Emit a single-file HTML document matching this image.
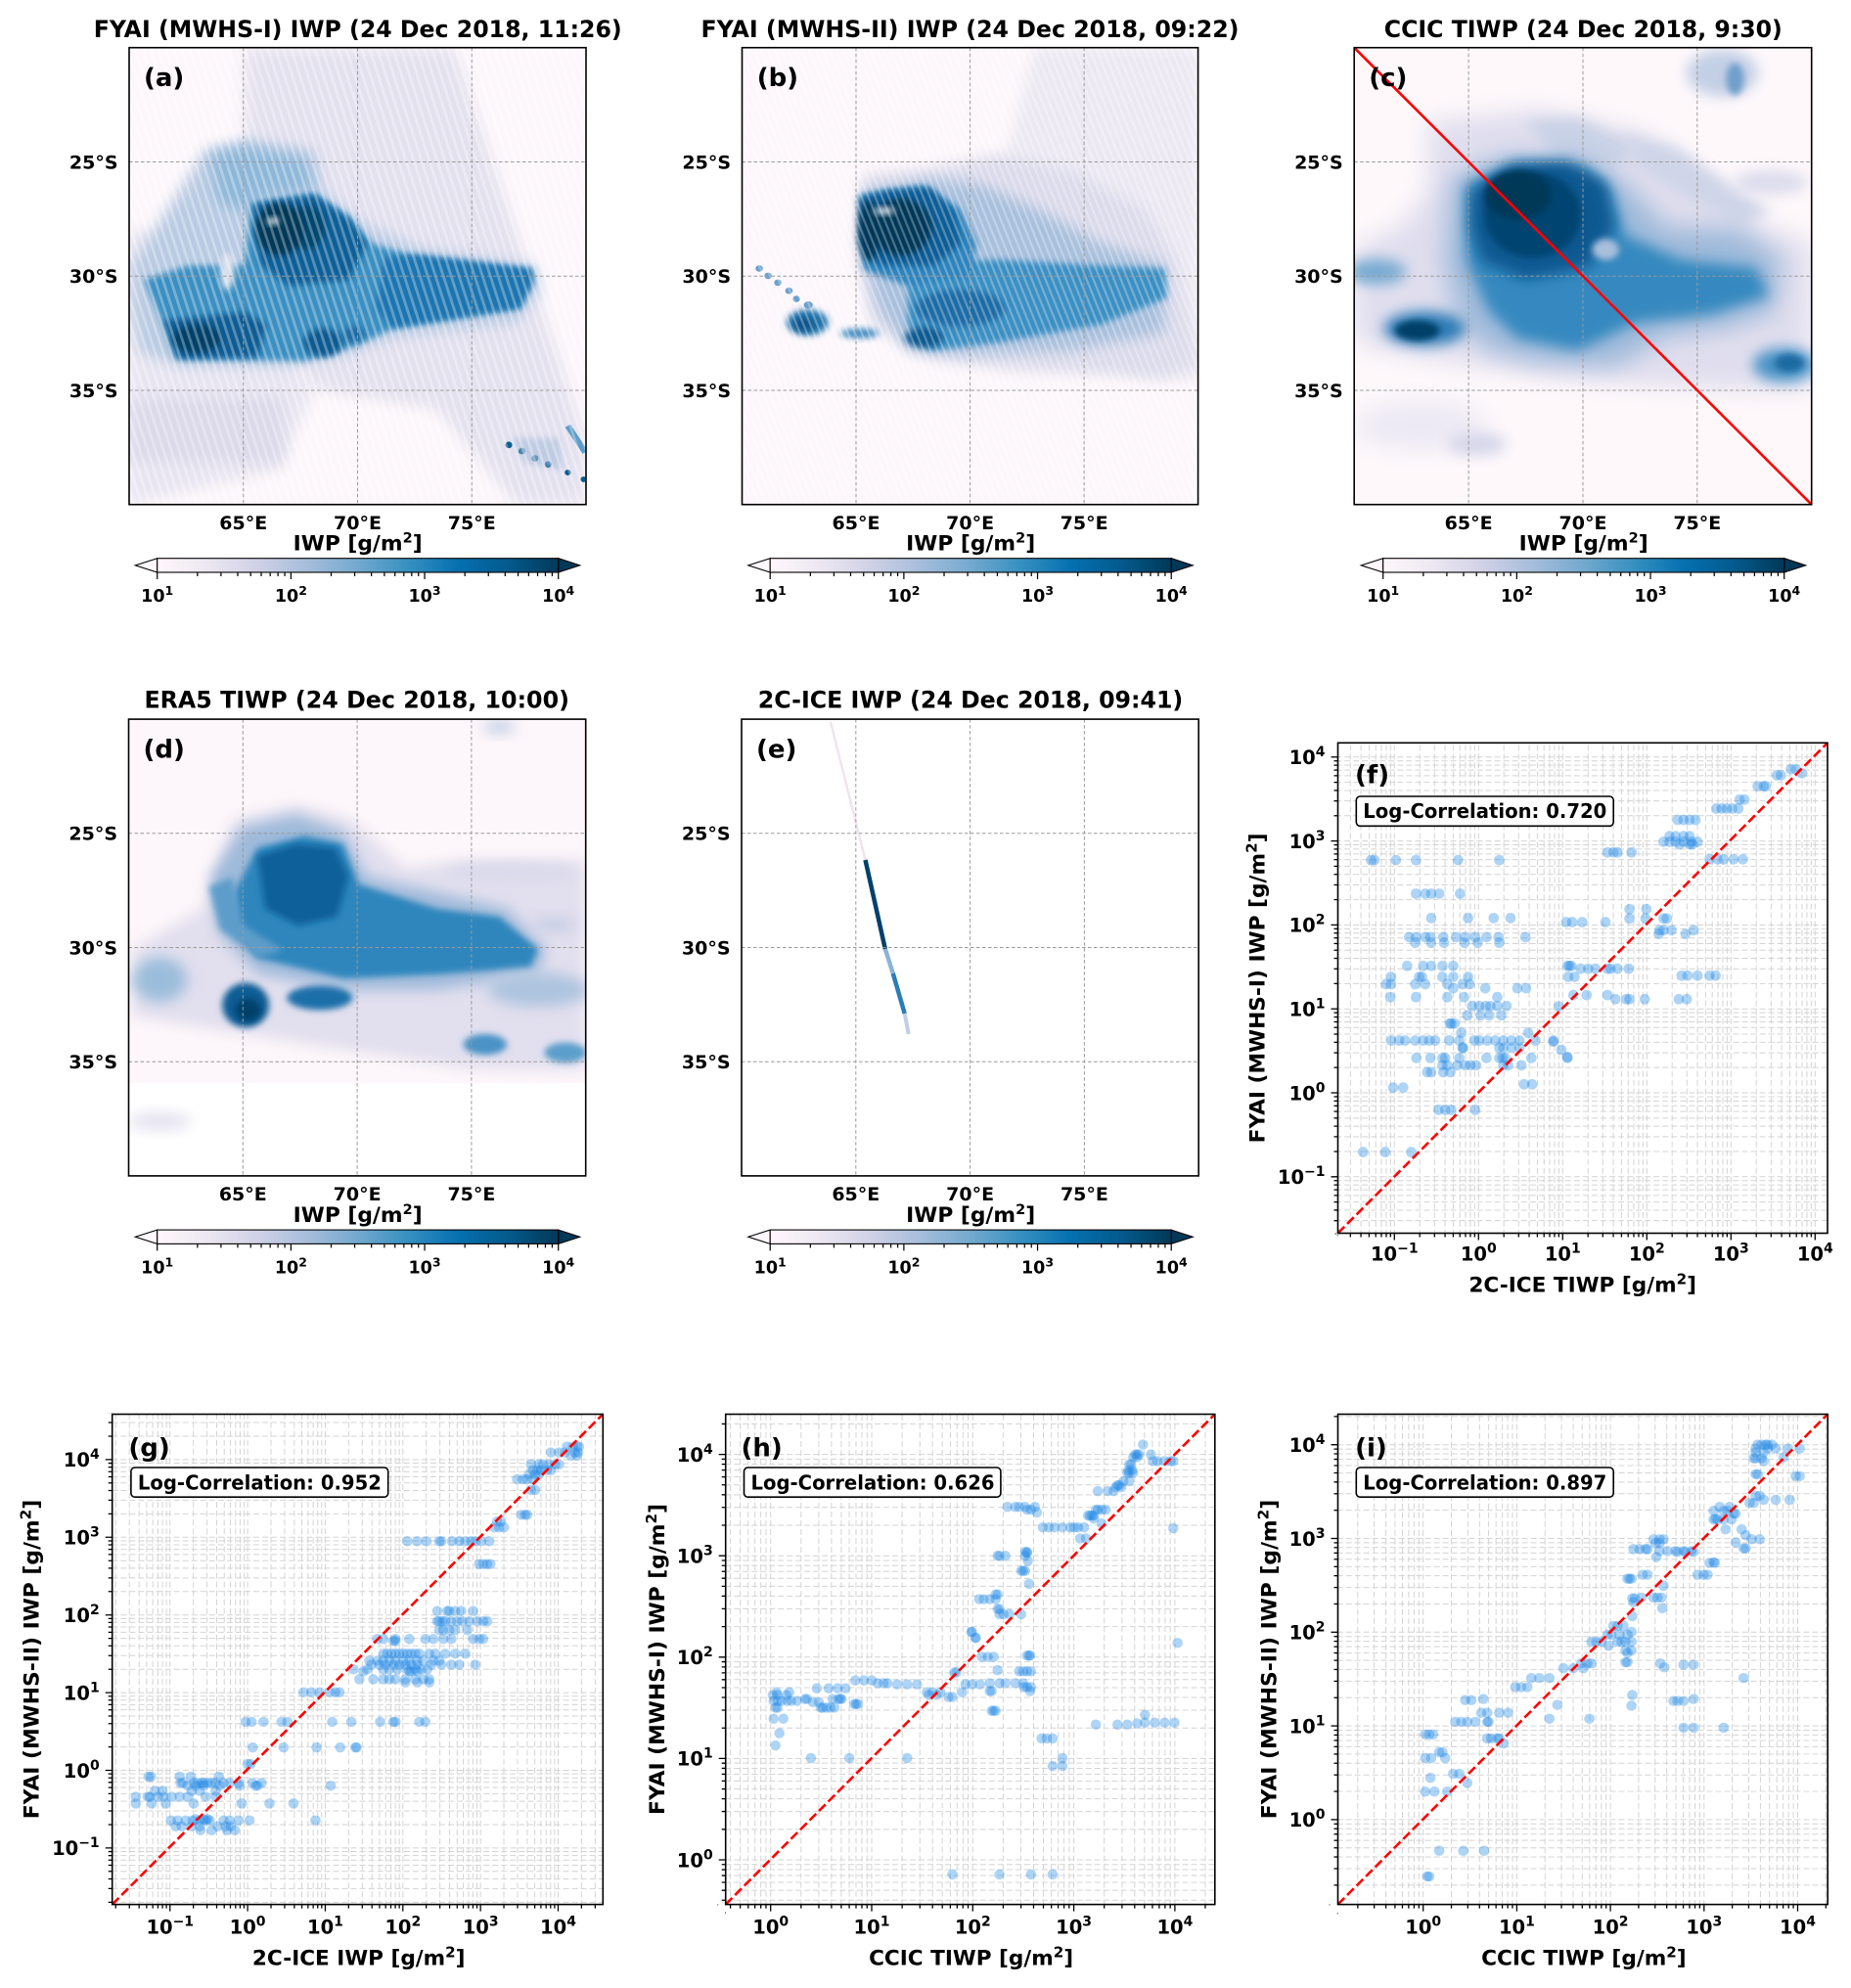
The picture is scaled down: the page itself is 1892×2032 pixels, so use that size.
<!DOCTYPE html>
<html><head><meta charset="utf-8"><style>
html,body{margin:0;padding:0;background:#fff;width:1892px;height:2032px;overflow:hidden;}
svg{display:block;}
text{font-family:"DejaVu Sans","Liberation Sans",sans-serif;font-weight:bold;fill:#000;}
</style></head><body>
<svg xmlns="http://www.w3.org/2000/svg" width="1892" height="2032" viewBox="0 0 1892 2032">
<defs>
<linearGradient id="pubu" x1="0" x2="1" y1="0" y2="0">
<stop offset="0" stop-color="#fff7fb"/><stop offset="0.125" stop-color="#ece7f2"/><stop offset="0.25" stop-color="#d0d1e6"/><stop offset="0.375" stop-color="#a6bddb"/><stop offset="0.5" stop-color="#74a9cf"/><stop offset="0.625" stop-color="#3690c0"/><stop offset="0.75" stop-color="#0570b0"/><stop offset="0.875" stop-color="#045a8d"/><stop offset="1" stop-color="#023858"/>
</linearGradient>
<filter id="fA" x="-50%" y="-50%" width="200%" height="200%"><feGaussianBlur stdDeviation="16 17"/></filter>
<filter id="fA2" x="-50%" y="-50%" width="200%" height="200%"><feGaussianBlur stdDeviation="7 8"/></filter>
<filter id="fB" x="-50%" y="-50%" width="200%" height="200%"><feGaussianBlur stdDeviation="9 17"/></filter>
<filter id="fB2" x="-50%" y="-50%" width="200%" height="200%"><feGaussianBlur stdDeviation="4.5 8"/></filter>
<filter id="fC" x="-50%" y="-50%" width="200%" height="200%"><feGaussianBlur stdDeviation="16 29"/></filter>
<pattern id="stA" patternUnits="userSpaceOnUse" width="8" height="40" patternTransform="skewX(18)"><rect x="0" y="0" width="3" height="40" fill="#fff"/></pattern>
<pattern id="stB" patternUnits="userSpaceOnUse" width="7" height="40" patternTransform="skewX(22)"><rect x="0" y="0" width="2.5" height="40" fill="#fff"/></pattern>
<!-- per-panel grid decades -->
<g id="gvF"><line x1="0" x2="0" y1="-170" y2="420"/><line x1="30.1" x2="30.1" y1="-170" y2="420"/><line x1="47.7" x2="47.7" y1="-170" y2="420"/><line x1="60.2" x2="60.2" y1="-170" y2="420"/><line x1="69.9" x2="69.9" y1="-170" y2="420"/><line x1="77.8" x2="77.8" y1="-170" y2="420"/><line x1="84.5" x2="84.5" y1="-170" y2="420"/><line x1="90.3" x2="90.3" y1="-170" y2="420"/><line x1="95.4" x2="95.4" y1="-170" y2="420"/></g>
<g id="ghF"><line y1="0" y2="0" x1="-170" x2="420"/><line y1="30.1" y2="30.1" x1="-170" x2="420"/><line y1="47.7" y2="47.7" x1="-170" x2="420"/><line y1="60.2" y2="60.2" x1="-170" x2="420"/><line y1="69.9" y2="69.9" x1="-170" x2="420"/><line y1="77.8" y2="77.8" x1="-170" x2="420"/><line y1="84.5" y2="84.5" x1="-170" x2="420"/><line y1="90.3" y2="90.3" x1="-170" x2="420"/><line y1="95.4" y2="95.4" x1="-170" x2="420"/></g>
<g id="gvG"><line x1="0" x2="0" y1="-175" y2="460"/><line x1="30.1" x2="30.1" y1="-175" y2="460"/><line x1="47.7" x2="47.7" y1="-175" y2="460"/><line x1="60.2" x2="60.2" y1="-175" y2="460"/><line x1="69.9" x2="69.9" y1="-175" y2="460"/><line x1="77.8" x2="77.8" y1="-175" y2="460"/><line x1="84.5" x2="84.5" y1="-175" y2="460"/><line x1="90.3" x2="90.3" y1="-175" y2="460"/><line x1="95.4" x2="95.4" y1="-175" y2="460"/></g>
<g id="ghG"><line y1="0" y2="0" x1="-175" x2="460"/><line y1="30.1" y2="30.1" x1="-175" x2="460"/><line y1="47.7" y2="47.7" x1="-175" x2="460"/><line y1="60.2" y2="60.2" x1="-175" x2="460"/><line y1="69.9" y2="69.9" x1="-175" x2="460"/><line y1="77.8" y2="77.8" x1="-175" x2="460"/><line y1="84.5" y2="84.5" x1="-175" x2="460"/><line y1="90.3" y2="90.3" x1="-175" x2="460"/><line y1="95.4" y2="95.4" x1="-175" x2="460"/></g>
<g id="gvH"><line x1="0" x2="0" y1="-45" y2="442"/><line x1="30.1" x2="30.1" y1="-45" y2="442"/><line x1="47.7" x2="47.7" y1="-45" y2="442"/><line x1="60.2" x2="60.2" y1="-45" y2="442"/><line x1="69.9" x2="69.9" y1="-45" y2="442"/><line x1="77.8" x2="77.8" y1="-45" y2="442"/><line x1="84.5" x2="84.5" y1="-45" y2="442"/><line x1="90.3" x2="90.3" y1="-45" y2="442"/><line x1="95.4" x2="95.4" y1="-45" y2="442"/></g>
<g id="ghH"><line y1="0" y2="0" x1="-45" x2="442"/><line y1="30.1" y2="30.1" x1="-45" x2="442"/><line y1="47.7" y2="47.7" x1="-45" x2="442"/><line y1="60.2" y2="60.2" x1="-45" x2="442"/><line y1="69.9" y2="69.9" x1="-45" x2="442"/><line y1="77.8" y2="77.8" x1="-45" x2="442"/><line y1="84.5" y2="84.5" x1="-45" x2="442"/><line y1="90.3" y2="90.3" x1="-45" x2="442"/><line y1="95.4" y2="95.4" x1="-45" x2="442"/></g>
<g id="gvI"><line x1="0" x2="0" y1="-92" y2="434"/><line x1="30.1" x2="30.1" y1="-92" y2="434"/><line x1="47.7" x2="47.7" y1="-92" y2="434"/><line x1="60.2" x2="60.2" y1="-92" y2="434"/><line x1="69.9" x2="69.9" y1="-92" y2="434"/><line x1="77.8" x2="77.8" y1="-92" y2="434"/><line x1="84.5" x2="84.5" y1="-92" y2="434"/><line x1="90.3" x2="90.3" y1="-92" y2="434"/><line x1="95.4" x2="95.4" y1="-92" y2="434"/></g>
<g id="ghI"><line y1="0" y2="0" x1="-92" x2="434"/><line y1="30.1" y2="30.1" x1="-92" x2="434"/><line y1="47.7" y2="47.7" x1="-92" x2="434"/><line y1="60.2" y2="60.2" x1="-92" x2="434"/><line y1="69.9" y2="69.9" x1="-92" x2="434"/><line y1="77.8" y2="77.8" x1="-92" x2="434"/><line y1="84.5" y2="84.5" x1="-92" x2="434"/><line y1="90.3" y2="90.3" x1="-92" x2="434"/><line y1="95.4" y2="95.4" x1="-92" x2="434"/></g>
<g id="lt"><line x1="-7" x2="0" y1="0" y2="0"/><line x1="-4" x2="0" y1="30.1" y2="30.1"/><line x1="-4" x2="0" y1="47.7" y2="47.7"/><line x1="-4" x2="0" y1="60.2" y2="60.2"/><line x1="-4" x2="0" y1="69.9" y2="69.9"/><line x1="-4" x2="0" y1="77.8" y2="77.8"/><line x1="-4" x2="0" y1="84.5" y2="84.5"/><line x1="-4" x2="0" y1="90.3" y2="90.3"/><line x1="-4" x2="0" y1="95.4" y2="95.4"/></g>
<g id="bt"><line x1="0" x2="0" y1="0" y2="7"/><line x1="30.1" x2="30.1" y1="0" y2="4"/><line x1="47.7" x2="47.7" y1="0" y2="4"/><line x1="60.2" x2="60.2" y1="0" y2="4"/><line x1="69.9" x2="69.9" y1="0" y2="4"/><line x1="77.8" x2="77.8" y1="0" y2="4"/><line x1="84.5" x2="84.5" y1="0" y2="4"/><line x1="90.3" x2="90.3" y1="0" y2="4"/><line x1="95.4" x2="95.4" y1="0" y2="4"/></g>
<clipPath id="cpa"><rect x="132" y="48.7" width="467" height="467"/></clipPath>
<clipPath id="cpb"><rect x="758.5" y="48.7" width="466.1" height="467"/></clipPath>
<clipPath id="cpc"><rect x="1384.2" y="48.7" width="467.5" height="467"/></clipPath>
<clipPath id="cpd"><rect x="131.5" y="735.1" width="467.2" height="466.8"/></clipPath>
<clipPath id="cpe"><rect x="758" y="735.1" width="467.2" height="466.8"/></clipPath>
<clipPath id="cpf"><rect x="1367.5" y="759.3" width="500.5" height="501.2"/></clipPath>
<clipPath id="cpg"><rect x="114.7" y="1445.5" width="501.6" height="501.1"/></clipPath>
<clipPath id="cph"><rect x="741.7" y="1445.5" width="500.1" height="501.1"/></clipPath>
<clipPath id="cpi"><rect x="1367.5" y="1445.5" width="500.7" height="501.1"/></clipPath>
<clipPath id="ctf"><rect x="1355" y="758.5" width="12.5" height="503"/><rect x="1366.8" y="1260.5" width="502" height="12"/></clipPath>
<clipPath id="ctg"><rect x="102" y="1444.8" width="12.7" height="502.5"/><rect x="114" y="1946.6" width="503" height="12"/></clipPath>
<clipPath id="cth"><rect x="729" y="1444.8" width="12.7" height="502.5"/><rect x="741" y="1946.6" width="501.5" height="12"/></clipPath>
<clipPath id="cti"><rect x="1355" y="1444.8" width="12.5" height="502.5"/><rect x="1366.8" y="1946.6" width="502" height="12"/></clipPath>
</defs>
<rect x="0" y="0" width="1892" height="2032" fill="#fff"/>

<!-- ============ TITLES ============ -->
<text x="365.7" y="38" font-size="24" text-anchor="middle" textLength="540" lengthAdjust="spacingAndGlyphs">FYAI (MWHS-I) IWP (24 Dec 2018, 11:26)</text>
<text x="991.5" y="38" font-size="24" text-anchor="middle" textLength="550" lengthAdjust="spacingAndGlyphs">FYAI (MWHS-II) IWP (24 Dec 2018, 09:22)</text>
<text x="1618.3" y="38" font-size="24" text-anchor="middle" textLength="407" lengthAdjust="spacingAndGlyphs">CCIC TIWP (24 Dec 2018, 9:30)</text>
<text x="364.7" y="723.5" font-size="24" text-anchor="middle" textLength="434.5" lengthAdjust="spacingAndGlyphs">ERA5 TIWP (24 Dec 2018, 10:00)</text>
<text x="992" y="723.5" font-size="24" text-anchor="middle" textLength="434.5" lengthAdjust="spacingAndGlyphs">2C-ICE IWP (24 Dec 2018, 09:41)</text>

<!-- ============ MAP A ============ -->
<g clip-path="url(#cpa)">
<g transform="translate(0,0) scale(0.44643,0.41454)">
<rect x="295" y="118" width="1047" height="1126" fill="#fdf7fb"/>
<path d="M560,118 L1040,118 L1342,1080 L1342,1244 L1180,1244 L1000,1010 L720,960 L560,700Z" fill="#e4e1ef" filter="url(#fA)"/>
<path d="M295,560 L560,650 L720,960 L640,1160 L295,1244Z" fill="#e8e5f1" filter="url(#fA)"/>
<rect x="300" y="980" width="350" height="160" fill="#dcd9ea" filter="url(#fA)"/>
<path d="M300,650 L380,520 L470,370 L570,345 L720,370 L740,470 L830,550 L960,610 L1225,655 L1235,720 L1185,795 L900,835 L780,880 L650,905 L420,905 L320,870 L300,760Z" fill="#b9cbe3" filter="url(#fA)"/>
<path d="M480,380 L560,360 L700,390 L720,470 L600,490 L560,520 L500,500Z" fill="#8db7d9" filter="url(#fA)"/>
<path d="M370,790 L330,690 L430,655 L560,655 L575,500 L720,478 L800,535 L850,600 L960,635 L1210,668 L1195,760 L900,810 L820,850 L700,890 L400,885Z" fill="#3a8fc2" filter="url(#fA2)"/>
<path d="M880,635 L960,628 L1220,662 L1222,700 L1190,758 L900,808 L860,760Z" fill="#1f74b0" filter="url(#fA2)"/>
<path d="M580,505 L720,480 L800,540 L840,600 L800,690 L660,705 L595,650Z" fill="#0a5f98" filter="url(#fA2)"/>
<ellipse cx="700" cy="560" rx="45" ry="55" fill="#03466f" filter="url(#fA2)"/>
<ellipse cx="640" cy="565" rx="55" ry="65" fill="#023858" filter="url(#fA2)"/>
<path d="M375,790 L560,770 L610,800 L590,880 L410,885Z" fill="#0b5c94" filter="url(#fA2)"/>
<ellipse cx="450" cy="835" rx="55" ry="35" fill="#023f68" filter="url(#fA2)"/>
<ellipse cx="740" cy="845" rx="45" ry="35" fill="#0a5a92" filter="url(#fA2)"/>
<ellipse cx="810" cy="825" rx="25" ry="20" fill="#1a6ba4" filter="url(#fA2)"/>
<ellipse cx="520" cy="670" rx="16" ry="45" fill="#dfe2ee" filter="url(#fA2)"/>
<ellipse cx="625" cy="545" rx="14" ry="8" fill="#eef1f7" filter="url(#fA2)"/>
<g fill="#045a8d"><ellipse cx="1165" cy="1097" rx="8" ry="8"/><ellipse cx="1195" cy="1112" rx="8" ry="8"/><ellipse cx="1225" cy="1130" rx="8" ry="8"/><ellipse cx="1255" cy="1145" rx="8" ry="8"/><ellipse cx="1300" cy="1165" rx="7" ry="7"/><ellipse cx="1336" cy="1182" rx="7" ry="7"/></g>
<path d="M1300,1050 L1340,1115" stroke="#5a9cca" stroke-width="14" fill="none"/>
<path d="M1170,1080 L1280,1080 L1290,1160 L1200,1140Z" fill="#a6bddb" filter="url(#fA2)" opacity="0.6"/>
</g>
<rect x="132" y="48.7" width="467" height="467" fill="url(#stA)" opacity="0.3"/>
</g>

<!-- ============ MAP B ============ -->
<g clip-path="url(#cpb)">
<g transform="translate(700,0) scale(0.76023,0.41454)">
<rect x="77" y="118" width="613" height="1126" fill="#fdf7fb"/>
<path d="M470,118 L690,118 L690,940 L600,930 L430,400Z" fill="#ebe8f2" filter="url(#fB)"/>
<path d="M240,430 L330,415 L420,380 L520,420 L620,520 L660,640 L690,900 L640,930 L450,915 L330,885 L250,800 L230,600Z" fill="#dcdbeb" filter="url(#fB)"/>
<path d="M240,470 L330,440 L400,455 L480,520 L560,600 L645,650 L645,820 L520,865 L380,875 L300,865 L260,760 L240,640Z" fill="#a9c0dd" filter="url(#fB)"/>
<path d="M300,650 L420,640 L560,655 L645,662 L648,735 L560,800 L420,845 L330,865 L300,800Z" fill="#3a8fc3" filter="url(#fB2)"/>
<path d="M235,480 L320,458 L370,515 L392,600 L385,685 L300,705 L240,665Z" fill="#2f84bd" filter="url(#fB2)"/>
<path d="M235,490 L270,470 L330,462 L362,520 L372,600 L335,655 L262,655 L235,600Z" fill="#075d97" filter="url(#fB2)"/>
<ellipse cx="290" cy="560" rx="42" ry="70" fill="#023858" filter="url(#fB2)"/>
<ellipse cx="248" cy="570" rx="14" ry="75" fill="#023858" filter="url(#fB2)"/>
<ellipse cx="268" cy="520" rx="14" ry="8" fill="#e8ecf4" filter="url(#fB2)"/>
<ellipse cx="370" cy="760" rx="60" ry="45" fill="#1b6ca6" filter="url(#fB2)"/>
<ellipse cx="165" cy="795" rx="28" ry="32" fill="#2474ad" filter="url(#fB2)"/>
<ellipse cx="160" cy="800" rx="14" ry="18" fill="#0b5288" filter="url(#fB2)"/>
<ellipse cx="235" cy="822" rx="26" ry="12" fill="#3b88c0" filter="url(#fB2)"/>
<ellipse cx="322" cy="832" rx="26" ry="26" fill="#0c5a90" filter="url(#fB2)"/>
<g fill="#6aa0cc"><ellipse cx="100" cy="662" rx="5" ry="8"/><ellipse cx="112" cy="680" rx="5" ry="8"/><ellipse cx="125" cy="697" rx="5" ry="8"/><ellipse cx="140" cy="717" rx="5" ry="8"/><ellipse cx="150" cy="737" rx="5" ry="8"/><ellipse cx="166" cy="752" rx="6" ry="9"/></g>
</g>
<rect x="758.5" y="48.7" width="466.1" height="467" fill="url(#stB)" opacity="0.28"/>
</g>

<!-- ============ MAP C ============ -->
<g clip-path="url(#cpc)">
<g transform="translate(700,0) scale(0.76023,0.41454)">
<rect x="900" y="118" width="615" height="1126" fill="#fef8fb"/>
<path d="M1000,300 L1150,270 L1290,330 L1360,430 L1430,540 L1515,600 L1515,960 L1420,960 L1300,950 L1150,925 L1000,885 L905,850 L900,780 L900,610 L960,560 L1000,470Z" fill="#e0deee" filter="url(#fC)"/>
<ellipse cx="990" cy="1050" rx="90" ry="60" fill="#ece9f4" filter="url(#fC)"/>
<ellipse cx="1065" cy="1095" rx="40" ry="28" fill="#d5d6ea" filter="url(#fB)"/>
<path d="M1130,300 L1200,290 L1280,360 L1250,420 L1180,400Z" fill="#c9d2e6" filter="url(#fB)"/>
<path d="M1260,330 L1330,360 L1400,450 L1460,520 L1420,560 L1340,480 L1280,410Z" fill="#cfd5e8" filter="url(#fB)"/>
<path d="M1030,440 L1100,385 L1200,385 L1265,450 L1320,560 L1420,565 L1475,640 L1465,770 L1400,810 L1320,830 L1250,905 L1150,895 L1080,865 L1040,790 L1020,640Z" fill="#9fbada" filter="url(#fC)"/>
<path d="M1050,455 L1120,405 L1210,410 L1245,470 L1265,580 L1340,640 L1440,660 L1458,730 L1380,775 L1280,795 L1200,865 L1120,835 L1080,765 L1050,640Z" fill="#3589c0" filter="url(#fB)"/>
<path d="M1058,470 L1110,405 L1185,398 L1238,450 L1250,560 L1215,660 L1130,690 L1072,645 L1056,560Z" fill="#075891" filter="url(#fB)"/>
<ellipse cx="1140" cy="530" rx="65" ry="105" fill="#034571" filter="url(#fB2)"/>
<ellipse cx="1120" cy="480" rx="45" ry="60" fill="#023858" filter="url(#fB2)"/>
<ellipse cx="1238" cy="615" rx="18" ry="26" fill="#a9bfdc" filter="url(#fB2)"/>
<ellipse cx="995" cy="810" rx="55" ry="42" fill="#2a7ab5" filter="url(#fB)"/>
<ellipse cx="985" cy="815" rx="30" ry="25" fill="#033f68" filter="url(#fB2)"/>
<ellipse cx="930" cy="670" rx="40" ry="32" fill="#78abd2" filter="url(#fB)"/>
<ellipse cx="1478" cy="900" rx="42" ry="42" fill="#4a93c6" filter="url(#fB)"/>
<ellipse cx="1485" cy="895" rx="20" ry="22" fill="#1c6aa3" filter="url(#fB2)"/>
<ellipse cx="1395" cy="180" rx="48" ry="58" fill="#c3cfe5" filter="url(#fB)"/>
<ellipse cx="1412" cy="195" rx="12" ry="40" fill="#6f9fcb" filter="url(#fB2)"/>
<ellipse cx="1460" cy="450" rx="50" ry="30" fill="#dcdcec" filter="url(#fB)"/>
</g>
</g>

<!-- ============ MAP D ============ -->
<g clip-path="url(#cpd)">
<g transform="translate(0,680) scale(0.79719,0.41454)">
<rect x="165" y="133" width="586" height="1126" fill="#fdf6fa"/>
<rect x="165" y="1030" width="586" height="229" fill="#ffffff"/>
<path d="M170,700 L260,600 L300,380 L380,345 L450,380 L520,500 L600,480 L751,480 L751,1000 L600,995 L450,950 L300,905 L170,865Z" fill="#e2dfee" filter="url(#fB)"/>
<path d="M270,520 L310,400 L380,368 L440,410 L470,520 L560,560 L650,600 L700,700 L690,760 L560,800 L440,800 L330,760 L280,660Z" fill="#9fbada" filter="url(#fB)"/>
<path d="M300,560 L330,450 L390,420 L440,440 L460,540 L560,600 L640,620 L690,700 L680,745 L560,762 L440,772 L330,722 L300,640Z" fill="#2f86bd" filter="url(#fB2)"/>
<path d="M268,545 L298,522 L312,640 L362,702 L332,722 L282,650Z" fill="#5d9dca" filter="url(#fB2)"/>
<path d="M330,470 L380,440 L430,450 L447,520 L432,620 L382,642 L340,600Z" fill="#0a609a" filter="url(#fB2)"/>
<ellipse cx="315" cy="838" rx="30" ry="55" fill="#0e5d94" filter="url(#fB2)"/>
<ellipse cx="318" cy="850" rx="16" ry="28" fill="#03406b" filter="url(#fB2)"/>
<ellipse cx="410" cy="820" rx="42" ry="30" fill="#1f70aa" filter="url(#fB2)"/>
<ellipse cx="205" cy="775" rx="35" ry="55" fill="#9bbddb" filter="url(#fB)"/>
<ellipse cx="622" cy="935" rx="28" ry="26" fill="#4a93c6" filter="url(#fB2)"/>
<ellipse cx="725" cy="955" rx="27" ry="25" fill="#5b9ecb" filter="url(#fB2)"/>
<ellipse cx="655" cy="510" rx="85" ry="20" fill="#d8d9eb" filter="url(#fB)"/>
<ellipse cx="710" cy="640" rx="30" ry="20" fill="#c9cfe6" filter="url(#fB)"/>
<ellipse cx="690" cy="800" rx="65" ry="42" fill="#aec4df" filter="url(#fB)"/>
<ellipse cx="640" cy="152" rx="20" ry="18" fill="#c6d0e6" filter="url(#fB)"/>
<ellipse cx="205" cy="1125" rx="40" ry="22" fill="#e4e1ef" filter="url(#fB)"/>
</g>
</g>

<!-- ============ MAP E ============ -->
<g clip-path="url(#cpe)">
<rect x="758" y="735.1" width="467.2" height="466.8" fill="#fff"/>
<line x1="849" y1="738" x2="884.5" y2="879" stroke="#f0e4ef" stroke-width="2.5"/>
<line x1="884.5" y1="879" x2="904.8" y2="970" stroke="#03406c" stroke-width="4.5"/>
<line x1="904.8" y1="970" x2="912.8" y2="995" stroke="#8cb3d6" stroke-width="4.5"/>
<line x1="912.8" y1="995" x2="924.7" y2="1036" stroke="#2a7db8" stroke-width="4.5"/>
<line x1="924.7" y1="1036" x2="928.7" y2="1057" stroke="#c0cfe5" stroke-width="4"/>
</g>

<!-- map gridlines -->
<g stroke="#9a9a9a" stroke-width="1" stroke-dasharray="3.5 2.5" fill="none">
<path d="M248.75,48.7V515.7M365.5,48.7V515.7M482.25,48.7V515.7M132,165.45H599M132,282.2H599M132,398.95H599"/>
<path d="M875,48.7V515.7M991.6,48.7V515.7M1108.1,48.7V515.7M758.5,165.45H1224.6M758.5,282.2H1224.6M758.5,398.95H1224.6"/>
<path d="M1501.1,48.7V515.7M1618,48.7V515.7M1734.8,48.7V515.7M1384.2,165.45H1851.7M1384.2,282.2H1851.7M1384.2,398.95H1851.7"/>
<path d="M248.3,735.1V1201.9M365.1,735.1V1201.9M481.9,735.1V1201.9M131.5,851.8H598.7M131.5,968.5H598.7M131.5,1085.2H598.7"/>
<path d="M874.8,735.1V1201.9M991.6,735.1V1201.9M1108.4,735.1V1201.9M758,851.8H1225.2M758,968.5H1225.2M758,1085.2H1225.2"/>
</g>
<line x1="1384.2" y1="48.7" x2="1851.7" y2="515.7" stroke="#ff0000" stroke-width="2.6"/>
<g fill="none" stroke="#000" stroke-width="1.6">
<rect x="132" y="48.7" width="467" height="467"/>
<rect x="758.5" y="48.7" width="466.1" height="467"/>
<rect x="1384.2" y="48.7" width="467.5" height="467"/>
<rect x="131.5" y="735.1" width="467.2" height="466.8"/>
<rect x="758" y="735.1" width="467.2" height="466.8"/>
</g>

<!-- panel labels maps -->
<g font-size="26">
<text x="147" y="88">(a)</text>
<text x="773.7" y="88">(b)</text>
<text x="1399.2" y="88">(c)</text>
<text x="146.5" y="774.4">(d)</text>
<text x="773" y="774.4">(e)</text>
</g>

<!-- map tick labels -->
<g font-size="19" text-anchor="end">
<text x="120.5" y="172.3">25°S</text><text x="120.5" y="289">30°S</text><text x="120.5" y="405.8">35°S</text>
<text x="747" y="172.3">25°S</text><text x="747" y="289">30°S</text><text x="747" y="405.8">35°S</text>
<text x="1372.7" y="172.3">25°S</text><text x="1372.7" y="289">30°S</text><text x="1372.7" y="405.8">35°S</text>
<text x="120" y="858.6">25°S</text><text x="120" y="975.3">30°S</text><text x="120" y="1092">35°S</text>
<text x="746.5" y="858.6">25°S</text><text x="746.5" y="975.3">30°S</text><text x="746.5" y="1092">35°S</text>
</g>
<g font-size="19" text-anchor="middle">
<text x="248.75" y="541">65°E</text><text x="365.5" y="541">70°E</text><text x="482.25" y="541">75°E</text>
<text x="875" y="541">65°E</text><text x="991.6" y="541">70°E</text><text x="1108.1" y="541">75°E</text>
<text x="1501.1" y="541">65°E</text><text x="1618" y="541">70°E</text><text x="1734.8" y="541">75°E</text>
<text x="248.3" y="1226.8">65°E</text><text x="365.1" y="1226.8">70°E</text><text x="481.9" y="1226.8">75°E</text>
<text x="874.8" y="1226.8">65°E</text><text x="991.6" y="1226.8">70°E</text><text x="1108.4" y="1226.8">75°E</text>
</g>
<g font-size="21" text-anchor="middle">
<text x="365.7" y="562.5" textLength="132" lengthAdjust="spacingAndGlyphs">IWP [g/m<tspan dy="-8" font-size="14">2</tspan><tspan dy="8">]</tspan></text>
<text x="992.2" y="562.5" textLength="132" lengthAdjust="spacingAndGlyphs">IWP [g/m<tspan dy="-8" font-size="14">2</tspan><tspan dy="8">]</tspan></text>
<text x="1618.7" y="562.5" textLength="132" lengthAdjust="spacingAndGlyphs">IWP [g/m<tspan dy="-8" font-size="14">2</tspan><tspan dy="8">]</tspan></text>
<text x="365.7" y="1249" textLength="132" lengthAdjust="spacingAndGlyphs">IWP [g/m<tspan dy="-8" font-size="14">2</tspan><tspan dy="8">]</tspan></text>
<text x="992.2" y="1249" textLength="132" lengthAdjust="spacingAndGlyphs">IWP [g/m<tspan dy="-8" font-size="14">2</tspan><tspan dy="8">]</tspan></text>
</g>

<!-- colorbars -->
<g stroke="#000" stroke-width="1.1">
<polygon points="138.3,577.85 160.7,570.7 160.7,585" fill="#fff7fb"/><polygon points="570.7,570.7 592.7,577.85 570.7,585" fill="#023858"/><rect x="160.7" y="570.7" width="410" height="14.3" fill="url(#pubu)"/>
<polygon points="764.8,577.85 787.2,570.7 787.2,585" fill="#fff7fb"/><polygon points="1197.2,570.7 1219.2,577.85 1197.2,585" fill="#023858"/><rect x="787.2" y="570.7" width="410" height="14.3" fill="url(#pubu)"/>
<polygon points="1391.3,577.85 1413.7,570.7 1413.7,585" fill="#fff7fb"/><polygon points="1823.7,570.7 1845.7,577.85 1823.7,585" fill="#023858"/><rect x="1413.7" y="570.7" width="410" height="14.3" fill="url(#pubu)"/>
<polygon points="138.3,1264.25 160.7,1257.1 160.7,1271.4" fill="#fff7fb"/><polygon points="570.7,1257.1 592.7,1264.25 570.7,1271.4" fill="#023858"/><rect x="160.7" y="1257.1" width="410" height="14.3" fill="url(#pubu)"/>
<polygon points="764.8,1264.25 787.2,1257.1 787.2,1271.4" fill="#fff7fb"/><polygon points="1197.2,1257.1 1219.2,1264.25 1197.2,1271.4" fill="#023858"/><rect x="787.2" y="1257.1" width="410" height="14.3" fill="url(#pubu)"/>
</g>
<g stroke="#000" stroke-width="0.9">
<g transform="translate(160.7,585) scale(1.3667,1)"><use href="#bt" x="0"/><use href="#bt" x="100"/><use href="#bt" x="200"/><line x1="300" x2="300" y1="0" y2="7"/></g>
<g transform="translate(787.2,585) scale(1.3667,1)"><use href="#bt" x="0"/><use href="#bt" x="100"/><use href="#bt" x="200"/><line x1="300" x2="300" y1="0" y2="7"/></g>
<g transform="translate(1413.7,585) scale(1.3667,1)"><use href="#bt" x="0"/><use href="#bt" x="100"/><use href="#bt" x="200"/><line x1="300" x2="300" y1="0" y2="7"/></g>
<g transform="translate(160.7,1271.4) scale(1.3667,1)"><use href="#bt" x="0"/><use href="#bt" x="100"/><use href="#bt" x="200"/><line x1="300" x2="300" y1="0" y2="7"/></g>
<g transform="translate(787.2,1271.4) scale(1.3667,1)"><use href="#bt" x="0"/><use href="#bt" x="100"/><use href="#bt" x="200"/><line x1="300" x2="300" y1="0" y2="7"/></g>
</g>
<g font-size="17.5" text-anchor="middle">
<text x="160.7" y="615">10<tspan dy="-7" font-size="12.5">1</tspan></text><text x="297.4" y="615">10<tspan dy="-7" font-size="12.5">2</tspan></text><text x="434" y="615">10<tspan dy="-7" font-size="12.5">3</tspan></text><text x="570.7" y="615">10<tspan dy="-7" font-size="12.5">4</tspan></text>
<text x="787.2" y="615">10<tspan dy="-7" font-size="12.5">1</tspan></text><text x="923.9" y="615">10<tspan dy="-7" font-size="12.5">2</tspan></text><text x="1060.5" y="615">10<tspan dy="-7" font-size="12.5">3</tspan></text><text x="1197.2" y="615">10<tspan dy="-7" font-size="12.5">4</tspan></text>
<text x="1413.7" y="615">10<tspan dy="-7" font-size="12.5">1</tspan></text><text x="1550.4" y="615">10<tspan dy="-7" font-size="12.5">2</tspan></text><text x="1687" y="615">10<tspan dy="-7" font-size="12.5">3</tspan></text><text x="1823.7" y="615">10<tspan dy="-7" font-size="12.5">4</tspan></text>
<text x="160.7" y="1301.4">10<tspan dy="-7" font-size="12.5">1</tspan></text><text x="297.4" y="1301.4">10<tspan dy="-7" font-size="12.5">2</tspan></text><text x="434" y="1301.4">10<tspan dy="-7" font-size="12.5">3</tspan></text><text x="570.7" y="1301.4">10<tspan dy="-7" font-size="12.5">4</tspan></text>
<text x="787.2" y="1301.4">10<tspan dy="-7" font-size="12.5">1</tspan></text><text x="923.9" y="1301.4">10<tspan dy="-7" font-size="12.5">2</tspan></text><text x="1060.5" y="1301.4">10<tspan dy="-7" font-size="12.5">3</tspan></text><text x="1197.2" y="1301.4">10<tspan dy="-7" font-size="12.5">4</tspan></text>
</g>

<!-- ============ SCATTER F ============ -->
<g clip-path="url(#cpf)">
<g transform="translate(1511.3,1117) scale(0.86,-0.858)" stroke="#d4d4d4" stroke-width="1.16" stroke-dasharray="7 3.5" fill="none">
<use href="#gvF" x="-200"/><use href="#gvF" x="-100"/><use href="#gvF" x="0"/><use href="#gvF" x="100"/><use href="#gvF" x="200"/><use href="#gvF" x="300"/><use href="#gvF" x="400"/>
<use href="#ghF" y="-200"/><use href="#ghF" y="-100"/><use href="#ghF" y="0"/><use href="#ghF" y="100"/><use href="#ghF" y="200"/><use href="#ghF" y="300"/><use href="#ghF" y="400"/>
</g>
<g transform="translate(1250,700) scale(0.40943,0.41454)" fill="#1e88e5" fill-opacity="0.36">
<circle cx="370" cy="432" r="13"/><circle cx="378" cy="432" r="13"/><circle cx="432" cy="432" r="13"/><circle cx="482" cy="432" r="13"/><circle cx="587" cy="432" r="13"/><circle cx="690" cy="432" r="13"/>
<circle cx="482" cy="515" r="13"/><circle cx="505" cy="515" r="13"/><circle cx="520" cy="515" r="13"/><circle cx="540" cy="515" r="13"/><circle cx="592" cy="515" r="13"/>
<circle cx="520" cy="575" r="13"/><circle cx="612" cy="575" r="13"/><circle cx="676" cy="575" r="13"/><circle cx="718" cy="575" r="13"/>
<circle cx="465" cy="622" r="13"/><circle cx="482" cy="622" r="13"/><circle cx="505" cy="622" r="13"/><circle cx="518" cy="622" r="13"/><circle cx="550" cy="622" r="13"/><circle cx="582" cy="622" r="13"/><circle cx="605" cy="622" r="13"/><circle cx="630" cy="622" r="13"/><circle cx="658" cy="622" r="13"/><circle cx="688" cy="622" r="13"/><circle cx="755" cy="622" r="13"/>
<circle cx="480" cy="636" r="13"/><circle cx="520" cy="636" r="13"/><circle cx="552" cy="636" r="13"/><circle cx="603" cy="636" r="13"/><circle cx="636" cy="636" r="13"/><circle cx="690" cy="636" r="13"/>
<circle cx="460" cy="693" r="13"/><circle cx="500" cy="693" r="13"/><circle cx="520" cy="693" r="13"/><circle cx="548" cy="693" r="13"/><circle cx="575" cy="693" r="13"/>
<circle cx="420" cy="720" r="13"/><circle cx="490" cy="720" r="13"/><circle cx="497" cy="720" r="13"/><circle cx="548" cy="720" r="13"/><circle cx="575" cy="720" r="13"/><circle cx="612" cy="720" r="13"/>
<circle cx="407" cy="738" r="13"/><circle cx="420" cy="738" r="13"/><circle cx="480" cy="738" r="13"/><circle cx="505" cy="738" r="13"/><circle cx="560" cy="738" r="13"/><circle cx="598" cy="738" r="13"/><circle cx="616" cy="738" r="13"/>
<circle cx="575" cy="748" r="13"/><circle cx="655" cy="748" r="13"/><circle cx="735" cy="748" r="13"/><circle cx="757" cy="748" r="13"/>
<circle cx="418" cy="770" r="13"/><circle cx="482" cy="770" r="13"/><circle cx="560" cy="770" r="13"/><circle cx="602" cy="770" r="13"/><circle cx="685" cy="770" r="13"/>
<circle cx="622" cy="792" r="13"/><circle cx="640" cy="792" r="13"/><circle cx="656" cy="792" r="13"/><circle cx="668" cy="792" r="13"/><circle cx="685" cy="792" r="13"/><circle cx="708" cy="792" r="13"/>
<circle cx="610" cy="815" r="13"/><circle cx="643" cy="815" r="13"/><circle cx="665" cy="815" r="13"/><circle cx="695" cy="815" r="13"/>
<circle cx="566" cy="835" r="13"/><circle cx="570" cy="835" r="13"/><circle cx="578" cy="835" r="13"/>
<circle cx="595" cy="858" r="13"/><circle cx="762" cy="858" r="13"/>
<circle cx="420" cy="877" r="13"/><circle cx="440" cy="877" r="13"/><circle cx="455" cy="877" r="13"/><circle cx="480" cy="877" r="13"/><circle cx="500" cy="877" r="13"/><circle cx="515" cy="877" r="13"/><circle cx="530" cy="877" r="13"/><circle cx="565" cy="877" r="13"/><circle cx="590" cy="877" r="13"/><circle cx="628" cy="877" r="13"/><circle cx="640" cy="877" r="13"/><circle cx="660" cy="877" r="13"/><circle cx="680" cy="877" r="13"/><circle cx="700" cy="877" r="13"/><circle cx="720" cy="877" r="13"/><circle cx="740" cy="877" r="13"/><circle cx="780" cy="877" r="13"/><circle cx="825" cy="877" r="13"/>
<circle cx="598" cy="895" r="13"/><circle cx="600" cy="895" r="13"/><circle cx="690" cy="895" r="13"/><circle cx="700" cy="895" r="13"/><circle cx="720" cy="895" r="13"/><circle cx="740" cy="895" r="13"/>
<circle cx="483" cy="920" r="13"/><circle cx="518" cy="920" r="13"/><circle cx="548" cy="920" r="13"/><circle cx="555" cy="920" r="13"/><circle cx="590" cy="920" r="13"/><circle cx="658" cy="920" r="13"/><circle cx="690" cy="920" r="13"/><circle cx="698" cy="920" r="13"/><circle cx="705" cy="920" r="13"/><circle cx="770" cy="920" r="13"/><circle cx="860" cy="920" r="13"/>
<circle cx="548" cy="938" r="13"/><circle cx="560" cy="938" r="13"/><circle cx="585" cy="938" r="13"/><circle cx="605" cy="938" r="13"/><circle cx="618" cy="938" r="13"/><circle cx="632" cy="938" r="13"/><circle cx="700" cy="938" r="13"/><circle cx="712" cy="938" r="13"/><circle cx="745" cy="938" r="13"/>
<circle cx="510" cy="955" r="13"/><circle cx="520" cy="955" r="13"/><circle cx="550" cy="955" r="13"/><circle cx="568" cy="955" r="13"/>
<circle cx="752" cy="985" r="13"/><circle cx="772" cy="985" r="13"/><circle cx="425" cy="993" r="13"/><circle cx="450" cy="993" r="13"/>
<circle cx="538" cy="1048" r="13"/><circle cx="555" cy="1048" r="13"/><circle cx="570" cy="1048" r="13"/><circle cx="630" cy="1048" r="13"/>
<circle cx="350" cy="1152" r="13"/><circle cx="405" cy="1152" r="13"/><circle cx="470" cy="1152" r="13"/>
<circle cx="960" cy="413" r="13"/><circle cx="975" cy="413" r="13"/><circle cx="985" cy="413" r="13"/><circle cx="1020" cy="413" r="13"/>
<circle cx="1100" cy="387" r="13"/><circle cx="1115" cy="387" r="13"/><circle cx="1130" cy="387" r="13"/><circle cx="1150" cy="387" r="13"/><circle cx="1170" cy="387" r="13"/><circle cx="1185" cy="387" r="13"/>
<circle cx="1115" cy="373" r="13"/><circle cx="1130" cy="373" r="13"/><circle cx="1150" cy="373" r="13"/><circle cx="1165" cy="373" r="13"/>
<circle cx="1140" cy="393" r="13"/><circle cx="1165" cy="393" r="13"/><circle cx="1172" cy="393" r="13"/>
<circle cx="1215" cy="430" r="13"/><circle cx="1235" cy="430" r="13"/><circle cx="1250" cy="430" r="13"/><circle cx="1275" cy="430" r="13"/><circle cx="1298" cy="430" r="13"/>
<circle cx="1135" cy="333" r="13"/><circle cx="1150" cy="333" r="13"/><circle cx="1165" cy="333" r="13"/><circle cx="1180" cy="333" r="13"/>
<circle cx="1232" cy="305" r="13"/><circle cx="1245" cy="305" r="13"/><circle cx="1258" cy="305" r="13"/><circle cx="1272" cy="305" r="13"/><circle cx="1287" cy="305" r="13"/>
<circle cx="1290" cy="283" r="13"/><circle cx="1302" cy="283" r="13"/>
<circle cx="1335" cy="250" r="13"/><circle cx="1350" cy="250" r="13"/><circle cx="1355" cy="250" r="13"/>
<circle cx="1383" cy="223" r="13"/><circle cx="1393" cy="223" r="13"/><circle cx="1418" cy="208" r="13"/><circle cx="1430" cy="208" r="13"/><circle cx="1445" cy="218" r="13"/>
<circle cx="1015" cy="553" r="13"/><circle cx="1057" cy="553" r="13"/>
<circle cx="1015" cy="576" r="13"/><circle cx="1055" cy="576" r="13"/><circle cx="1100" cy="576" r="13"/><circle cx="1108" cy="576" r="13"/>
<circle cx="1090" cy="605" r="13"/><circle cx="1100" cy="605" r="13"/><circle cx="1120" cy="605" r="13"/><circle cx="1175" cy="605" r="13"/>
<circle cx="1088" cy="614" r="13"/><circle cx="1155" cy="614" r="13"/>
<circle cx="857" cy="585" r="13"/><circle cx="872" cy="585" r="13"/><circle cx="897" cy="585" r="13"/><circle cx="955" cy="585" r="13"/>
<circle cx="893" cy="700" r="13"/><circle cx="912" cy="700" r="13"/><circle cx="930" cy="700" r="13"/><circle cx="960" cy="700" r="13"/><circle cx="968" cy="700" r="13"/><circle cx="985" cy="700" r="13"/><circle cx="1013" cy="700" r="13"/>
<circle cx="860" cy="693" r="13"/><circle cx="865" cy="693" r="13"/><circle cx="870" cy="693" r="13"/>
<circle cx="862" cy="720" r="13"/><circle cx="878" cy="720" r="13"/>
<circle cx="875" cy="765" r="13"/><circle cx="908" cy="765" r="13"/><circle cx="960" cy="765" r="13"/>
<circle cx="980" cy="775" r="13"/><circle cx="1007" cy="775" r="13"/><circle cx="1015" cy="775" r="13"/><circle cx="1053" cy="775" r="13"/><circle cx="1138" cy="775" r="13"/><circle cx="1158" cy="775" r="13"/>
<circle cx="1145" cy="717" r="13"/><circle cx="1160" cy="717" r="13"/><circle cx="1185" cy="717" r="13"/><circle cx="1215" cy="717" r="13"/><circle cx="1230" cy="717" r="13"/>
<circle cx="838" cy="793" r="13"/><circle cx="825" cy="880" r="13"/><circle cx="845" cy="900" r="13"/><circle cx="860" cy="918" r="13"/>
</g>
<line x1="1367.5" y1="1260.5" x2="1868" y2="759.3" stroke="#ff0000" stroke-width="2.6" stroke-dasharray="9.5 4"/>
</g>
<g clip-path="url(#ctf)" stroke="#000">
<g transform="translate(1367.5,1117) scale(1,-0.858)" stroke-width="1.5"><use href="#lt" y="-200"/><use href="#lt" y="-100"/><use href="#lt" y="0"/><use href="#lt" y="100"/><use href="#lt" y="200"/><use href="#lt" y="300"/><use href="#lt" y="400"/></g>
<g transform="translate(1511.3,1260.5) scale(0.86,1)" stroke-width="1.5"><use href="#bt" x="-200"/><use href="#bt" x="-100"/><use href="#bt" x="0"/><use href="#bt" x="100"/><use href="#bt" x="200"/><use href="#bt" x="300"/><use href="#bt" x="400"/></g>
</g>
<rect x="1386.3" y="814" width="262.9" height="30.3" rx="4" fill="#fff" stroke="#000" stroke-width="1.6"/>
<text x="1393.3" y="835.8" font-size="20" textLength="249" lengthAdjust="spacingAndGlyphs">Log-Correlation: 0.720</text>
<text x="1385" y="800.4" font-size="26">(f)</text>
<rect x="1367.5" y="759.3" width="500.5" height="501.2" fill="none" stroke="#000" stroke-width="1.6"/>
<g font-size="19.5" text-anchor="middle">
<text x="1425.3" y="1288.7">10<tspan dy="-8" font-size="14">−1</tspan></text><text x="1511.3" y="1288.7">10<tspan dy="-8" font-size="14">0</tspan></text><text x="1597.3" y="1288.7">10<tspan dy="-8" font-size="14">1</tspan></text><text x="1683.3" y="1288.7">10<tspan dy="-8" font-size="14">2</tspan></text><text x="1769.3" y="1288.7">10<tspan dy="-8" font-size="14">3</tspan></text><text x="1855.3" y="1288.7">10<tspan dy="-8" font-size="14">4</tspan></text>
</g>
<g font-size="19.5" text-anchor="end">
<text x="1354.5" y="781.1">10<tspan dy="-8" font-size="14">4</tspan></text><text x="1354.5" y="866.9">10<tspan dy="-8" font-size="14">3</tspan></text><text x="1354.5" y="952.7">10<tspan dy="-8" font-size="14">2</tspan></text><text x="1354.5" y="1038.5">10<tspan dy="-8" font-size="14">1</tspan></text><text x="1354.5" y="1124.3">10<tspan dy="-8" font-size="14">0</tspan></text><text x="1354.5" y="1210.1">10<tspan dy="-8" font-size="14">−1</tspan></text>
</g>
<text x="1617.7" y="1320.5" font-size="21.5" text-anchor="middle" textLength="232.6" lengthAdjust="spacingAndGlyphs">2C-ICE TIWP [g/m<tspan dy="-8" font-size="15">2</tspan><tspan dy="8">]</tspan></text>
<text transform="translate(1284.8,1009.9) rotate(-90)" y="7.8" font-size="21.5" text-anchor="middle" textLength="317" lengthAdjust="spacingAndGlyphs">FYAI (MWHS-I) IWP [g/m<tspan dy="-8" font-size="15">2</tspan><tspan dy="8">]</tspan></text>

<!-- ============ SCATTER G ============ -->
<g clip-path="url(#cpg)">
<g transform="translate(253.1,1809.5) scale(0.7935,-0.794)" stroke="#d4d4d4" stroke-width="1.26" stroke-dasharray="7.6 3.8" fill="none">
<use href="#gvG" x="-200"/><use href="#gvG" x="-100"/><use href="#gvG" x="0"/><use href="#gvG" x="100"/><use href="#gvG" x="200"/><use href="#gvG" x="300"/><use href="#gvG" x="400"/>
<use href="#ghG" y="-200"/><use href="#ghG" y="-100"/><use href="#ghG" y="0"/><use href="#ghG" y="100"/><use href="#ghG" y="200"/><use href="#ghG" y="300"/><use href="#ghG" y="400"/>
</g>
<g transform="translate(0,1400) scale(0.40816,0.40306)" fill="#1e88e5" fill-opacity="0.36">
<circle cx="1420" cy="195" r="13"/><circle cx="1435" cy="195" r="13"/><circle cx="1445" cy="195" r="13"/><circle cx="1450" cy="195" r="13"/>
<circle cx="1380" cy="210" r="13"/><circle cx="1400" cy="210" r="13"/><circle cx="1415" cy="210" r="13"/><circle cx="1440" cy="210" r="13"/><circle cx="1448" cy="210" r="13"/>
<circle cx="1430" cy="218" r="13"/><circle cx="1445" cy="218" r="13"/>
<circle cx="1330" cy="240" r="13"/><circle cx="1350" cy="240" r="13"/><circle cx="1360" cy="240" r="13"/><circle cx="1375" cy="240" r="13"/><circle cx="1390" cy="240" r="13"/><circle cx="1400" cy="240" r="13"/>
<circle cx="1335" cy="255" r="13"/><circle cx="1345" cy="255" r="13"/><circle cx="1355" cy="255" r="13"/><circle cx="1370" cy="255" r="13"/><circle cx="1380" cy="255" r="13"/>
<circle cx="1325" cy="265" r="13"/><circle cx="1340" cy="265" r="13"/><circle cx="1350" cy="265" r="13"/>
<circle cx="1295" cy="278" r="13"/><circle cx="1310" cy="278" r="13"/><circle cx="1320" cy="278" r="13"/><circle cx="1335" cy="278" r="13"/>
<circle cx="1330" cy="305" r="13"/><circle cx="1340" cy="305" r="13"/>
<circle cx="1305" cy="368" r="13"/><circle cx="1315" cy="368" r="13"/><circle cx="1320" cy="368" r="13"/>
<circle cx="1245" cy="385" r="13"/><circle cx="1255" cy="385" r="13"/><circle cx="1238" cy="400" r="13"/><circle cx="1250" cy="400" r="13"/><circle cx="1262" cy="400" r="13"/>
<circle cx="1020" cy="435" r="13"/><circle cx="1045" cy="435" r="13"/><circle cx="1068" cy="435" r="13"/><circle cx="1100" cy="435" r="13"/><circle cx="1105" cy="435" r="13"/><circle cx="1132" cy="435" r="13"/><circle cx="1150" cy="435" r="13"/><circle cx="1165" cy="435" r="13"/><circle cx="1180" cy="435" r="13"/><circle cx="1190" cy="435" r="13"/><circle cx="1205" cy="435" r="13"/><circle cx="1225" cy="435" r="13"/>
<circle cx="1200" cy="493" r="13"/><circle cx="1210" cy="493" r="13"/><circle cx="1220" cy="493" r="13"/><circle cx="1228" cy="493" r="13"/>
<circle cx="1095" cy="612" r="13"/><circle cx="1120" cy="612" r="13"/><circle cx="1125" cy="612" r="13"/><circle cx="1140" cy="612" r="13"/><circle cx="1155" cy="612" r="13"/><circle cx="1185" cy="612" r="13"/>
<circle cx="1095" cy="638" r="13"/><circle cx="1100" cy="638" r="13"/><circle cx="1108" cy="638" r="13"/><circle cx="1115" cy="638" r="13"/><circle cx="1130" cy="638" r="13"/><circle cx="1145" cy="638" r="13"/><circle cx="1158" cy="638" r="13"/><circle cx="1175" cy="638" r="13"/><circle cx="1195" cy="638" r="13"/><circle cx="1210" cy="638" r="13"/><circle cx="1220" cy="638" r="13"/>
<circle cx="1100" cy="660" r="13"/><circle cx="1110" cy="660" r="13"/><circle cx="1125" cy="660" r="13"/><circle cx="1140" cy="660" r="13"/><circle cx="1170" cy="660" r="13"/>
<circle cx="945" cy="683" r="13"/><circle cx="960" cy="683" r="13"/><circle cx="990" cy="683" r="13"/><circle cx="1025" cy="683" r="13"/><circle cx="1065" cy="683" r="13"/><circle cx="1085" cy="683" r="13"/><circle cx="1110" cy="683" r="13"/><circle cx="1130" cy="683" r="13"/><circle cx="1185" cy="683" r="13"/><circle cx="1200" cy="683" r="13"/><circle cx="1210" cy="683" r="13"/>
<circle cx="985" cy="688" r="13"/><circle cx="990" cy="688" r="13"/>
<circle cx="960" cy="720" r="13"/><circle cx="970" cy="720" r="13"/><circle cx="980" cy="720" r="13"/><circle cx="990" cy="720" r="13"/><circle cx="1000" cy="720" r="13"/><circle cx="1010" cy="720" r="13"/><circle cx="1020" cy="720" r="13"/><circle cx="1030" cy="720" r="13"/><circle cx="1040" cy="720" r="13"/><circle cx="1050" cy="720" r="13"/><circle cx="1075" cy="720" r="13"/><circle cx="1090" cy="720" r="13"/><circle cx="1115" cy="720" r="13"/><circle cx="1140" cy="720" r="13"/><circle cx="1165" cy="720" r="13"/>
<circle cx="925" cy="738" r="13"/><circle cx="945" cy="738" r="13"/><circle cx="960" cy="738" r="13"/><circle cx="975" cy="738" r="13"/><circle cx="990" cy="738" r="13"/><circle cx="1010" cy="738" r="13"/><circle cx="1025" cy="738" r="13"/><circle cx="1045" cy="738" r="13"/><circle cx="1060" cy="738" r="13"/><circle cx="1085" cy="738" r="13"/><circle cx="1100" cy="738" r="13"/>
<circle cx="930" cy="748" r="13"/><circle cx="950" cy="748" r="13"/><circle cx="965" cy="748" r="13"/><circle cx="985" cy="748" r="13"/><circle cx="1000" cy="748" r="13"/><circle cx="1015" cy="748" r="13"/><circle cx="1030" cy="748" r="13"/><circle cx="1045" cy="748" r="13"/><circle cx="1080" cy="748" r="13"/><circle cx="1105" cy="748" r="13"/><circle cx="1130" cy="748" r="13"/><circle cx="1150" cy="748" r="13"/><circle cx="1190" cy="748" r="13"/>
<circle cx="885" cy="760" r="13"/><circle cx="920" cy="760" r="13"/><circle cx="960" cy="760" r="13"/><circle cx="975" cy="760" r="13"/><circle cx="995" cy="760" r="13"/><circle cx="1020" cy="760" r="13"/><circle cx="1040" cy="760" r="13"/><circle cx="1055" cy="760" r="13"/><circle cx="1070" cy="760" r="13"/>
<circle cx="910" cy="765" r="13"/><circle cx="1025" cy="765" r="13"/><circle cx="1030" cy="765" r="13"/><circle cx="1045" cy="765" r="13"/>
<circle cx="900" cy="785" r="13"/><circle cx="935" cy="785" r="13"/><circle cx="960" cy="785" r="13"/><circle cx="975" cy="785" r="13"/><circle cx="990" cy="785" r="13"/><circle cx="1015" cy="785" r="13"/><circle cx="1040" cy="785" r="13"/><circle cx="1060" cy="785" r="13"/><circle cx="1075" cy="785" r="13"/>
<circle cx="1015" cy="793" r="13"/><circle cx="1045" cy="793" r="13"/><circle cx="1075" cy="793" r="13"/>
<circle cx="760" cy="818" r="13"/><circle cx="780" cy="818" r="13"/><circle cx="800" cy="818" r="13"/><circle cx="826" cy="818" r="13"/><circle cx="840" cy="818" r="13"/><circle cx="850" cy="818" r="13"/>
<circle cx="615" cy="893" r="13"/><circle cx="630" cy="893" r="13"/><circle cx="660" cy="893" r="13"/><circle cx="705" cy="893" r="13"/><circle cx="720" cy="893" r="13"/><circle cx="832" cy="893" r="13"/><circle cx="880" cy="893" r="13"/><circle cx="952" cy="893" r="13"/><circle cx="985" cy="893" r="13"/><circle cx="990" cy="893" r="13"/><circle cx="1050" cy="893" r="13"/><circle cx="1065" cy="893" r="13"/>
<circle cx="633" cy="958" r="13"/><circle cx="710" cy="958" r="13"/><circle cx="793" cy="958" r="13"/><circle cx="852" cy="958" r="13"/><circle cx="890" cy="958" r="13"/><circle cx="893" cy="958" r="13"/>
<circle cx="620" cy="1000" r="13"/><circle cx="628" cy="1000" r="13"/>
<circle cx="372" cy="1032" r="13"/><circle cx="378" cy="1032" r="13"/><circle cx="450" cy="1032" r="13"/><circle cx="478" cy="1032" r="13"/><circle cx="548" cy="1032" r="13"/>
<circle cx="452" cy="1048" r="13"/><circle cx="458" cy="1048" r="13"/><circle cx="485" cy="1048" r="13"/><circle cx="495" cy="1048" r="13"/><circle cx="505" cy="1048" r="13"/><circle cx="510" cy="1048" r="13"/><circle cx="520" cy="1048" r="13"/><circle cx="530" cy="1048" r="13"/><circle cx="540" cy="1048" r="13"/><circle cx="560" cy="1048" r="13"/><circle cx="575" cy="1048" r="13"/><circle cx="598" cy="1048" r="13"/><circle cx="632" cy="1048" r="13"/><circle cx="655" cy="1048" r="13"/>
<circle cx="470" cy="1055" r="13"/><circle cx="490" cy="1055" r="13"/><circle cx="510" cy="1055" r="13"/><circle cx="550" cy="1055" r="13"/><circle cx="600" cy="1055" r="13"/><circle cx="640" cy="1055" r="13"/><circle cx="645" cy="1055" r="13"/><circle cx="828" cy="1055" r="13"/>
<circle cx="388" cy="1068" r="13"/><circle cx="407" cy="1068" r="13"/><circle cx="480" cy="1068" r="13"/><circle cx="500" cy="1068" r="13"/><circle cx="540" cy="1068" r="13"/>
<circle cx="340" cy="1083" r="13"/><circle cx="370" cy="1083" r="13"/><circle cx="375" cy="1083" r="13"/><circle cx="395" cy="1083" r="13"/><circle cx="410" cy="1083" r="13"/><circle cx="430" cy="1083" r="13"/><circle cx="450" cy="1083" r="13"/><circle cx="470" cy="1083" r="13"/><circle cx="515" cy="1083" r="13"/><circle cx="540" cy="1083" r="13"/>
<circle cx="340" cy="1100" r="13"/><circle cx="380" cy="1100" r="13"/><circle cx="415" cy="1100" r="13"/><circle cx="485" cy="1100" r="13"/><circle cx="605" cy="1100" r="13"/><circle cx="675" cy="1100" r="13"/><circle cx="735" cy="1100" r="13"/>
<circle cx="428" cy="1143" r="13"/><circle cx="445" cy="1143" r="13"/><circle cx="465" cy="1143" r="13"/><circle cx="482" cy="1143" r="13"/><circle cx="500" cy="1143" r="13"/><circle cx="515" cy="1143" r="13"/><circle cx="525" cy="1143" r="13"/><circle cx="560" cy="1143" r="13"/><circle cx="575" cy="1143" r="13"/><circle cx="598" cy="1143" r="13"/><circle cx="625" cy="1143" r="13"/><circle cx="790" cy="1143" r="13"/>
<circle cx="490" cy="1140" r="13"/><circle cx="510" cy="1140" r="13"/><circle cx="520" cy="1140" r="13"/>
<circle cx="440" cy="1158" r="13"/><circle cx="455" cy="1158" r="13"/><circle cx="480" cy="1158" r="13"/><circle cx="500" cy="1158" r="13"/><circle cx="545" cy="1158" r="13"/><circle cx="565" cy="1158" r="13"/><circle cx="578" cy="1158" r="13"/>
<circle cx="502" cy="1168" r="13"/><circle cx="530" cy="1168" r="13"/><circle cx="568" cy="1168" r="13"/><circle cx="588" cy="1168" r="13"/>
</g>
<line x1="114.7" y1="1946.6" x2="616.3" y2="1445.5" stroke="#ff0000" stroke-width="2.6" stroke-dasharray="9.5 4"/>
</g>
<g clip-path="url(#ctg)" stroke="#000">
<g transform="translate(114.7,1809.5) scale(1,-0.794)" stroke-width="1.6"><use href="#lt" y="-200"/><use href="#lt" y="-100"/><use href="#lt" y="0"/><use href="#lt" y="100"/><use href="#lt" y="200"/><use href="#lt" y="300"/><use href="#lt" y="400"/></g>
<g transform="translate(253.1,1946.6) scale(0.7935,1)" stroke-width="1.6"><use href="#bt" x="-200"/><use href="#bt" x="-100"/><use href="#bt" x="0"/><use href="#bt" x="100"/><use href="#bt" x="200"/><use href="#bt" x="300"/><use href="#bt" x="400"/></g>
</g>
<rect x="133.9" y="1500" width="262.8" height="30.2" rx="4" fill="#fff" stroke="#000" stroke-width="1.6"/>
<text x="140.9" y="1522.6" font-size="20" textLength="249" lengthAdjust="spacingAndGlyphs">Log-Correlation: 0.952</text>
<text x="131.4" y="1488.4" font-size="26">(g)</text>
<rect x="114.7" y="1445.5" width="501.6" height="501.1" fill="none" stroke="#000" stroke-width="1.6"/>
<g font-size="19.5" text-anchor="middle">
<text x="173.75" y="1976.7">10<tspan dy="-8" font-size="14">−1</tspan></text><text x="253.1" y="1976.7">10<tspan dy="-8" font-size="14">0</tspan></text><text x="332.45" y="1976.7">10<tspan dy="-8" font-size="14">1</tspan></text><text x="411.8" y="1976.7">10<tspan dy="-8" font-size="14">2</tspan></text><text x="491.15" y="1976.7">10<tspan dy="-8" font-size="14">3</tspan></text><text x="570.5" y="1976.7">10<tspan dy="-8" font-size="14">4</tspan></text>
</g>
<g font-size="19.5" text-anchor="end">
<text x="101.7" y="1499.2">10<tspan dy="-8" font-size="14">4</tspan></text><text x="101.7" y="1578.6">10<tspan dy="-8" font-size="14">3</tspan></text><text x="101.7" y="1658">10<tspan dy="-8" font-size="14">2</tspan></text><text x="101.7" y="1737.4">10<tspan dy="-8" font-size="14">1</tspan></text><text x="101.7" y="1816.8">10<tspan dy="-8" font-size="14">0</tspan></text><text x="101.7" y="1896.2">10<tspan dy="-8" font-size="14">−1</tspan></text>
</g>
<text x="366.7" y="2008.4" font-size="21.5" text-anchor="middle" textLength="217.6" lengthAdjust="spacingAndGlyphs">2C-ICE IWP [g/m<tspan dy="-8" font-size="15">2</tspan><tspan dy="8">]</tspan></text>
<text transform="translate(31.6,1696) rotate(-90)" y="7.8" font-size="21.5" text-anchor="middle" textLength="326.5" lengthAdjust="spacingAndGlyphs">FYAI (MWHS-II) IWP [g/m<tspan dy="-8" font-size="15">2</tspan><tspan dy="8">]</tspan></text>

<!-- ============ SCATTER H ============ -->
<g clip-path="url(#cph)">
<g transform="translate(787.7,1901) scale(1.033,-1.036)" stroke="#d4d4d4" stroke-width="0.97" stroke-dasharray="5.8 2.9" fill="none">
<use href="#gvH" x="-100"/><use href="#gvH" x="0"/><use href="#gvH" x="100"/><use href="#gvH" x="200"/><use href="#gvH" x="300"/><use href="#gvH" x="400"/>
<use href="#ghH" y="-100"/><use href="#ghH" y="0"/><use href="#ghH" y="100"/><use href="#ghH" y="200"/><use href="#ghH" y="300"/><use href="#ghH" y="400"/>
</g>
<g transform="translate(640,1400) scale(0.40177,0.40306)" fill="#1e88e5" fill-opacity="0.36">
<circle cx="1315" cy="190" r="13"/>
<circle cx="1295" cy="215" r="13"/><circle cx="1300" cy="215" r="13"/><circle cx="1305" cy="215" r="13"/><circle cx="1335" cy="215" r="13"/>
<circle cx="1290" cy="222" r="13"/><circle cx="1300" cy="222" r="13"/>
<circle cx="1340" cy="232" r="13"/><circle cx="1352" cy="232" r="13"/><circle cx="1370" cy="232" r="13"/><circle cx="1385" cy="232" r="13"/><circle cx="1392" cy="232" r="13"/>
<circle cx="1280" cy="240" r="13"/><circle cx="1285" cy="240" r="13"/><circle cx="1278" cy="255" r="13"/><circle cx="1288" cy="255" r="13"/>
<circle cx="1275" cy="262" r="13"/><circle cx="1280" cy="262" r="13"/><circle cx="1290" cy="262" r="13"/>
<circle cx="1265" cy="283" r="13"/><circle cx="1280" cy="283" r="13"/><circle cx="1250" cy="293" r="13"/><circle cx="1255" cy="293" r="13"/>
<circle cx="1245" cy="298" r="13"/><circle cx="1260" cy="298" r="13"/><circle cx="1200" cy="308" r="13"/><circle cx="1225" cy="308" r="13"/><circle cx="1240" cy="308" r="13"/>
<circle cx="970" cy="348" r="13"/><circle cx="990" cy="348" r="13"/><circle cx="1000" cy="348" r="13"/><circle cx="1015" cy="348" r="13"/><circle cx="1040" cy="348" r="13"/>
<circle cx="1020" cy="355" r="13"/><circle cx="1030" cy="355" r="13"/><circle cx="1045" cy="362" r="13"/>
<circle cx="1195" cy="355" r="13"/><circle cx="1200" cy="355" r="13"/><circle cx="1210" cy="355" r="13"/><circle cx="1220" cy="355" r="13"/>
<circle cx="1175" cy="370" r="13"/><circle cx="1180" cy="370" r="13"/><circle cx="1185" cy="370" r="13"/><circle cx="1190" cy="370" r="13"/><circle cx="1190" cy="378" r="13"/><circle cx="1210" cy="390" r="13"/>
<circle cx="1060" cy="400" r="13"/><circle cx="1075" cy="400" r="13"/><circle cx="1090" cy="400" r="13"/><circle cx="1110" cy="400" r="13"/><circle cx="1130" cy="400" r="13"/><circle cx="1140" cy="400" r="13"/><circle cx="1150" cy="400" r="13"/><circle cx="1165" cy="400" r="13"/>
<circle cx="1392" cy="402" r="13"/><circle cx="1155" cy="428" r="13"/><circle cx="1170" cy="428" r="13"/>
<circle cx="1015" cy="462" r="13"/><circle cx="1020" cy="462" r="13"/><circle cx="1020" cy="465" r="13"/>
<circle cx="945" cy="472" r="13"/><circle cx="950" cy="472" r="13"/><circle cx="965" cy="472" r="13"/><circle cx="1015" cy="472" r="13"/><circle cx="1022" cy="485" r="13"/>
<circle cx="1005" cy="510" r="13"/><circle cx="1010" cy="510" r="13"/><circle cx="1015" cy="510" r="13"/><circle cx="1025" cy="543" r="13"/>
<circle cx="898" cy="582" r="13"/><circle cx="910" cy="582" r="13"/><circle cx="925" cy="582" r="13"/><circle cx="940" cy="582" r="13"/>
<circle cx="940" cy="570" r="13"/><circle cx="945" cy="570" r="13"/><circle cx="945" cy="607" r="13"/><circle cx="950" cy="607" r="13"/>
<circle cx="950" cy="620" r="13"/><circle cx="960" cy="620" r="13"/><circle cx="975" cy="620" r="13"/><circle cx="1005" cy="620" r="13"/>
<circle cx="878" cy="665" r="13"/><circle cx="880" cy="665" r="13"/><circle cx="888" cy="680" r="13"/><circle cx="890" cy="680" r="13"/>
<circle cx="1403" cy="693" r="13"/>
<circle cx="905" cy="728" r="13"/><circle cx="920" cy="728" r="13"/><circle cx="935" cy="728" r="13"/>
<circle cx="1020" cy="725" r="13"/><circle cx="1025" cy="725" r="13"/><circle cx="1028" cy="725" r="13"/>
<circle cx="945" cy="762" r="13"/><circle cx="1000" cy="765" r="13"/><circle cx="1010" cy="765" r="13"/><circle cx="1020" cy="765" r="13"/><circle cx="1030" cy="765" r="13"/>
<circle cx="835" cy="768" r="13"/><circle cx="840" cy="768" r="13"/>
<circle cx="583" cy="788" r="13"/><circle cx="605" cy="788" r="13"/><circle cx="625" cy="788" r="13"/>
<circle cx="640" cy="795" r="13"/><circle cx="655" cy="795" r="13"/><circle cx="665" cy="795" r="13"/>
<circle cx="690" cy="798" r="13"/><circle cx="715" cy="798" r="13"/><circle cx="740" cy="798" r="13"/>
<circle cx="863" cy="798" r="13"/><circle cx="880" cy="798" r="13"/><circle cx="900" cy="798" r="13"/>
<circle cx="925" cy="795" r="13"/><circle cx="950" cy="795" r="13"/><circle cx="965" cy="795" r="13"/><circle cx="990" cy="795" r="13"/><circle cx="1010" cy="795" r="13"/>
<circle cx="1012" cy="805" r="13"/><circle cx="1020" cy="805" r="13"/><circle cx="1030" cy="805" r="13"/>
<circle cx="925" cy="815" r="13"/><circle cx="930" cy="815" r="13"/><circle cx="1028" cy="815" r="13"/>
<circle cx="485" cy="808" r="13"/><circle cx="515" cy="808" r="13"/><circle cx="538" cy="808" r="13"/><circle cx="558" cy="808" r="13"/>
<circle cx="765" cy="818" r="13"/><circle cx="780" cy="818" r="13"/><circle cx="800" cy="818" r="13"/><circle cx="855" cy="818" r="13"/>
<circle cx="770" cy="825" r="13"/><circle cx="790" cy="825" r="13"/><circle cx="820" cy="830" r="13"/><circle cx="830" cy="830" r="13"/>
<circle cx="455" cy="835" r="13"/><circle cx="460" cy="835" r="13"/><circle cx="525" cy="835" r="13"/><circle cx="540" cy="835" r="13"/><circle cx="545" cy="835" r="13"/><circle cx="548" cy="835" r="13"/>
<circle cx="375" cy="840" r="13"/><circle cx="385" cy="840" r="13"/><circle cx="395" cy="840" r="13"/><circle cx="410" cy="840" r="13"/><circle cx="420" cy="840" r="13"/><circle cx="435" cy="840" r="13"/>
<circle cx="475" cy="843" r="13"/><circle cx="490" cy="843" r="13"/><circle cx="580" cy="848" r="13"/><circle cx="585" cy="848" r="13"/><circle cx="590" cy="848" r="13"/>
<circle cx="373" cy="825" r="13"/><circle cx="385" cy="825" r="13"/><circle cx="408" cy="825" r="13"/><circle cx="383" cy="818" r="13"/><circle cx="415" cy="818" r="13"/>
<circle cx="380" cy="857" r="13"/><circle cx="385" cy="857" r="13"/><circle cx="495" cy="857" r="13"/><circle cx="500" cy="857" r="13"/><circle cx="510" cy="857" r="13"/><circle cx="520" cy="857" r="13"/><circle cx="530" cy="857" r="13"/>
<circle cx="930" cy="865" r="13"/><circle cx="935" cy="865" r="13"/><circle cx="940" cy="865" r="13"/>
<circle cx="375" cy="885" r="13"/><circle cx="400" cy="885" r="13"/>
<circle cx="1195" cy="900" r="13"/><circle cx="1250" cy="900" r="13"/><circle cx="1275" cy="900" r="13"/><circle cx="1300" cy="897" r="13"/><circle cx="1320" cy="895" r="13"/><circle cx="1345" cy="895" r="13"/><circle cx="1370" cy="895" r="13"/><circle cx="1395" cy="895" r="13"/><circle cx="1320" cy="875" r="13"/>
<circle cx="390" cy="922" r="13"/><circle cx="1057" cy="935" r="13"/><circle cx="1070" cy="935" r="13"/><circle cx="1085" cy="935" r="13"/>
<circle cx="380" cy="953" r="13"/>
<circle cx="470" cy="985" r="13"/><circle cx="568" cy="985" r="13"/><circle cx="715" cy="985" r="13"/><circle cx="1110" cy="985" r="13"/>
<circle cx="1085" cy="1005" r="13"/><circle cx="1110" cy="1005" r="13"/>
<circle cx="830" cy="1280" r="13"/><circle cx="950" cy="1280" r="13"/><circle cx="1030" cy="1280" r="13"/><circle cx="1085" cy="1280" r="13"/>
</g>
<line x1="741.7" y1="1946.6" x2="1241.8" y2="1445.5" stroke="#ff0000" stroke-width="2.6" stroke-dasharray="9.5 4"/>
</g>
<g clip-path="url(#cth)" stroke="#000">
<g transform="translate(741.7,1901) scale(1,-1.036)" stroke-width="1.25"><use href="#lt" y="-100"/><use href="#lt" y="0"/><use href="#lt" y="100"/><use href="#lt" y="200"/><use href="#lt" y="300"/><use href="#lt" y="400"/></g>
<g transform="translate(787.7,1946.6) scale(1.033,1)" stroke-width="1.25"><use href="#bt" x="-100"/><use href="#bt" x="0"/><use href="#bt" x="100"/><use href="#bt" x="200"/><use href="#bt" x="300"/><use href="#bt" x="400"/></g>
</g>
<rect x="760.5" y="1500" width="262.4" height="30.2" rx="4" fill="#fff" stroke="#000" stroke-width="1.6"/>
<text x="767.5" y="1522.6" font-size="20" textLength="249" lengthAdjust="spacingAndGlyphs">Log-Correlation: 0.626</text>
<text x="757.5" y="1488.4" font-size="26">(h)</text>
<rect x="741.7" y="1445.5" width="500.1" height="501.1" fill="none" stroke="#000" stroke-width="1.6"/>
<g font-size="19.5" text-anchor="middle">
<text x="787.7" y="1976.7">10<tspan dy="-8" font-size="14">0</tspan></text><text x="891" y="1976.7">10<tspan dy="-8" font-size="14">1</tspan></text><text x="994.3" y="1976.7">10<tspan dy="-8" font-size="14">2</tspan></text><text x="1097.6" y="1976.7">10<tspan dy="-8" font-size="14">3</tspan></text><text x="1200.9" y="1976.7">10<tspan dy="-8" font-size="14">4</tspan></text>
</g>
<g font-size="19.5" text-anchor="end">
<text x="728.7" y="1493.9">10<tspan dy="-8" font-size="14">4</tspan></text><text x="728.7" y="1597.5">10<tspan dy="-8" font-size="14">3</tspan></text><text x="728.7" y="1701.1">10<tspan dy="-8" font-size="14">2</tspan></text><text x="728.7" y="1804.7">10<tspan dy="-8" font-size="14">1</tspan></text><text x="728.7" y="1908.3">10<tspan dy="-8" font-size="14">0</tspan></text>
</g>
<text x="992.6" y="2008.4" font-size="21.5" text-anchor="middle" textLength="209" lengthAdjust="spacingAndGlyphs">CCIC TIWP [g/m<tspan dy="-8" font-size="15">2</tspan><tspan dy="8">]</tspan></text>
<text transform="translate(671.1,1696) rotate(-90)" y="7.8" font-size="21.5" text-anchor="middle" textLength="318" lengthAdjust="spacingAndGlyphs">FYAI (MWHS-I) IWP [g/m<tspan dy="-8" font-size="15">2</tspan><tspan dy="8">]</tspan></text>

<!-- ============ SCATTER I ============ -->
<g clip-path="url(#cpi)">
<g transform="translate(1454.7,1859.9) scale(0.957,-0.958)" stroke="#d4d4d4" stroke-width="1.04" stroke-dasharray="6.3 3.1" fill="none">
<use href="#gvI" x="-100"/><use href="#gvI" x="0"/><use href="#gvI" x="100"/><use href="#gvI" x="200"/><use href="#gvI" x="300"/><use href="#gvI" x="400"/>
<use href="#ghI" y="-100"/><use href="#ghI" y="0"/><use href="#ghI" y="100"/><use href="#ghI" y="200"/><use href="#ghI" y="300"/><use href="#ghI" y="400"/>
</g>
<g transform="translate(1250,1400) scale(0.40943,0.40306)" fill="#1e88e5" fill-opacity="0.36">
<circle cx="1335" cy="190" r="13"/><circle cx="1345" cy="190" r="13"/><circle cx="1355" cy="190" r="13"/><circle cx="1360" cy="190" r="13"/><circle cx="1370" cy="190" r="13"/>
<circle cx="1330" cy="200" r="13"/><circle cx="1360" cy="200" r="13"/><circle cx="1380" cy="200" r="13"/><circle cx="1410" cy="200" r="13"/><circle cx="1440" cy="200" r="13"/>
<circle cx="1330" cy="210" r="13"/><circle cx="1350" cy="210" r="13"/><circle cx="1325" cy="225" r="13"/><circle cx="1330" cy="225" r="13"/><circle cx="1345" cy="225" r="13"/>
<circle cx="1350" cy="232" r="13"/><circle cx="1400" cy="222" r="13"/><circle cx="1330" cy="265" r="13"/><circle cx="1335" cy="265" r="13"/><circle cx="1430" cy="270" r="13"/><circle cx="1440" cy="270" r="13"/>
<circle cx="1330" cy="320" r="13"/><circle cx="1340" cy="320" r="13"/><circle cx="1350" cy="330" r="13"/><circle cx="1380" cy="330" r="13"/><circle cx="1415" cy="330" r="13"/>
<circle cx="1315" cy="338" r="13"/><circle cx="1325" cy="338" r="13"/><circle cx="1240" cy="348" r="13"/><circle cx="1265" cy="348" r="13"/>
<circle cx="1225" cy="358" r="13"/><circle cx="1250" cy="358" r="13"/><circle cx="1260" cy="358" r="13"/><circle cx="1280" cy="365" r="13"/><circle cx="1275" cy="365" r="13"/>
<circle cx="1225" cy="380" r="13"/><circle cx="1235" cy="380" r="13"/><circle cx="1250" cy="380" r="13"/><circle cx="1270" cy="380" r="13"/><circle cx="1230" cy="378" r="13"/>
<circle cx="1255" cy="405" r="13"/><circle cx="1295" cy="405" r="13"/><circle cx="1305" cy="420" r="13"/><circle cx="1320" cy="430" r="13"/><circle cx="1340" cy="430" r="13"/>
<circle cx="1280" cy="438" r="13"/><circle cx="1300" cy="453" r="13"/><circle cx="1305" cy="453" r="13"/>
<circle cx="1075" cy="430" r="13"/><circle cx="1090" cy="430" r="13"/><circle cx="1100" cy="430" r="13"/><circle cx="1080" cy="440" r="13"/><circle cx="1090" cy="440" r="13"/>
<circle cx="1025" cy="455" r="13"/><circle cx="1040" cy="455" r="13"/><circle cx="1055" cy="455" r="13"/><circle cx="1060" cy="455" r="13"/>
<circle cx="1090" cy="460" r="13"/><circle cx="1110" cy="460" r="13"/><circle cx="1130" cy="460" r="13"/><circle cx="1150" cy="460" r="13"/><circle cx="1170" cy="460" r="13"/>
<circle cx="1135" cy="462" r="13"/><circle cx="1155" cy="462" r="13"/><circle cx="1175" cy="462" r="13"/><circle cx="1082" cy="475" r="13"/>
<circle cx="1215" cy="490" r="13"/><circle cx="1228" cy="490" r="13"/><circle cx="1225" cy="488" r="13"/>
<circle cx="1048" cy="520" r="13"/><circle cx="1060" cy="520" r="13"/><circle cx="1185" cy="520" r="13"/><circle cx="1200" cy="520" r="13"/><circle cx="1210" cy="520" r="13"/>
<circle cx="1010" cy="530" r="13"/><circle cx="1020" cy="530" r="13"/><circle cx="1015" cy="530" r="13"/><circle cx="1100" cy="548" r="13"/>
<circle cx="1045" cy="578" r="13"/><circle cx="1075" cy="578" r="13"/><circle cx="1085" cy="578" r="13"/><circle cx="1095" cy="578" r="13"/>
<circle cx="1022" cy="580" r="13"/><circle cx="1028" cy="580" r="13"/><circle cx="1025" cy="590" r="13"/><circle cx="1097" cy="605" r="13"/><circle cx="1022" cy="625" r="13"/>
<circle cx="975" cy="650" r="13"/><circle cx="985" cy="650" r="13"/><circle cx="1000" cy="650" r="13"/><circle cx="1020" cy="665" r="13"/>
<circle cx="960" cy="672" r="13"/><circle cx="970" cy="672" r="13"/><circle cx="990" cy="672" r="13"/><circle cx="1010" cy="672" r="13"/>
<circle cx="920" cy="690" r="13"/><circle cx="932" cy="690" r="13"/><circle cx="945" cy="690" r="13"/><circle cx="985" cy="690" r="13"/><circle cx="995" cy="690" r="13"/><circle cx="1005" cy="690" r="13"/><circle cx="1020" cy="690" r="13"/>
<circle cx="963" cy="700" r="13"/><circle cx="1005" cy="712" r="13"/><circle cx="1020" cy="712" r="13"/><circle cx="1010" cy="718" r="13"/>
<circle cx="895" cy="745" r="13"/><circle cx="910" cy="745" r="13"/><circle cx="920" cy="745" r="13"/><circle cx="1092" cy="745" r="13"/>
<circle cx="1150" cy="748" r="13"/><circle cx="1175" cy="748" r="13"/><circle cx="1005" cy="742" r="13"/><circle cx="1010" cy="742" r="13"/><circle cx="1102" cy="755" r="13"/>
<circle cx="850" cy="757" r="13"/><circle cx="875" cy="757" r="13"/><circle cx="900" cy="757" r="13"/>
<circle cx="770" cy="782" r="13"/><circle cx="790" cy="782" r="13"/><circle cx="815" cy="782" r="13"/><circle cx="1300" cy="782" r="13"/>
<circle cx="730" cy="805" r="13"/><circle cx="745" cy="805" r="13"/><circle cx="760" cy="805" r="13"/>
<circle cx="1022" cy="825" r="13"/><circle cx="1125" cy="840" r="13"/><circle cx="1135" cy="840" r="13"/><circle cx="1150" cy="840" r="13"/><circle cx="1175" cy="835" r="13"/>
<circle cx="835" cy="850" r="13"/><circle cx="1020" cy="852" r="13"/>
<circle cx="605" cy="838" r="13"/><circle cx="620" cy="838" r="13"/><circle cx="650" cy="835" r="13"/>
<circle cx="645" cy="870" r="13"/><circle cx="660" cy="870" r="13"/><circle cx="690" cy="870" r="13"/><circle cx="712" cy="870" r="13"/>
<circle cx="915" cy="885" r="13"/><circle cx="815" cy="885" r="13"/>
<circle cx="580" cy="893" r="13"/><circle cx="595" cy="893" r="13"/><circle cx="610" cy="893" r="13"/><circle cx="630" cy="893" r="13"/><circle cx="660" cy="893" r="13"/><circle cx="663" cy="893" r="13"/>
<circle cx="1150" cy="908" r="13"/><circle cx="1175" cy="908" r="13"/><circle cx="1250" cy="908" r="13"/>
<circle cx="505" cy="925" r="13"/><circle cx="515" cy="925" r="13"/><circle cx="525" cy="925" r="13"/>
<circle cx="660" cy="935" r="13"/><circle cx="670" cy="935" r="13"/><circle cx="685" cy="935" r="13"/><circle cx="690" cy="935" r="13"/><circle cx="700" cy="948" r="13"/>
<circle cx="540" cy="970" r="13"/><circle cx="548" cy="970" r="13"/>
<circle cx="505" cy="985" r="13"/><circle cx="520" cy="985" r="13"/><circle cx="555" cy="985" r="13"/>
<circle cx="575" cy="1025" r="13"/><circle cx="590" cy="1025" r="13"/><circle cx="518" cy="1035" r="13"/><circle cx="610" cy="1048" r="13"/>
<circle cx="505" cy="1070" r="13"/><circle cx="528" cy="1070" r="13"/><circle cx="560" cy="1070" r="13"/>
<circle cx="540" cy="1220" r="13"/><circle cx="600" cy="1220" r="13"/><circle cx="652" cy="1220" r="13"/>
<circle cx="510" cy="1285" r="13"/><circle cx="515" cy="1285" r="13"/>
</g>
<line x1="1367.5" y1="1946.6" x2="1868.2" y2="1445.5" stroke="#ff0000" stroke-width="2.6" stroke-dasharray="9.5 4"/>
</g>
<g clip-path="url(#cti)" stroke="#000">
<g transform="translate(1367.5,1859.9) scale(1,-0.958)" stroke-width="1.35"><use href="#lt" y="-100"/><use href="#lt" y="0"/><use href="#lt" y="100"/><use href="#lt" y="200"/><use href="#lt" y="300"/><use href="#lt" y="400"/></g>
<g transform="translate(1454.7,1946.6) scale(0.957,1)" stroke-width="1.35"><use href="#bt" x="-100"/><use href="#bt" x="0"/><use href="#bt" x="100"/><use href="#bt" x="200"/><use href="#bt" x="300"/><use href="#bt" x="400"/></g>
</g>
<rect x="1386.3" y="1500" width="262.9" height="30.2" rx="4" fill="#fff" stroke="#000" stroke-width="1.6"/>
<text x="1393.3" y="1522.6" font-size="20" textLength="249" lengthAdjust="spacingAndGlyphs">Log-Correlation: 0.897</text>
<text x="1385.1" y="1488.4" font-size="26">(i)</text>
<rect x="1367.5" y="1445.5" width="500.7" height="501.1" fill="none" stroke="#000" stroke-width="1.6"/>
<g font-size="19.5" text-anchor="middle">
<text x="1454.7" y="1976.7">10<tspan dy="-8" font-size="14">0</tspan></text><text x="1550.4" y="1976.7">10<tspan dy="-8" font-size="14">1</tspan></text><text x="1646.1" y="1976.7">10<tspan dy="-8" font-size="14">2</tspan></text><text x="1741.8" y="1976.7">10<tspan dy="-8" font-size="14">3</tspan></text><text x="1837.5" y="1976.7">10<tspan dy="-8" font-size="14">4</tspan></text>
</g>
<g font-size="19.5" text-anchor="end">
<text x="1354.5" y="1484">10<tspan dy="-8" font-size="14">4</tspan></text><text x="1354.5" y="1579.8">10<tspan dy="-8" font-size="14">3</tspan></text><text x="1354.5" y="1675.6">10<tspan dy="-8" font-size="14">2</tspan></text><text x="1354.5" y="1771.4">10<tspan dy="-8" font-size="14">1</tspan></text><text x="1354.5" y="1867.2">10<tspan dy="-8" font-size="14">0</tspan></text>
</g>
<text x="1618.9" y="2008.4" font-size="21.5" text-anchor="middle" textLength="209.6" lengthAdjust="spacingAndGlyphs">CCIC TIWP [g/m<tspan dy="-8" font-size="15">2</tspan><tspan dy="8">]</tspan></text>
<text transform="translate(1296.5,1696) rotate(-90)" y="7.8" font-size="21.5" text-anchor="middle" textLength="326.5" lengthAdjust="spacingAndGlyphs">FYAI (MWHS-II) IWP [g/m<tspan dy="-8" font-size="15">2</tspan><tspan dy="8">]</tspan></text>
</svg>
</body></html>
